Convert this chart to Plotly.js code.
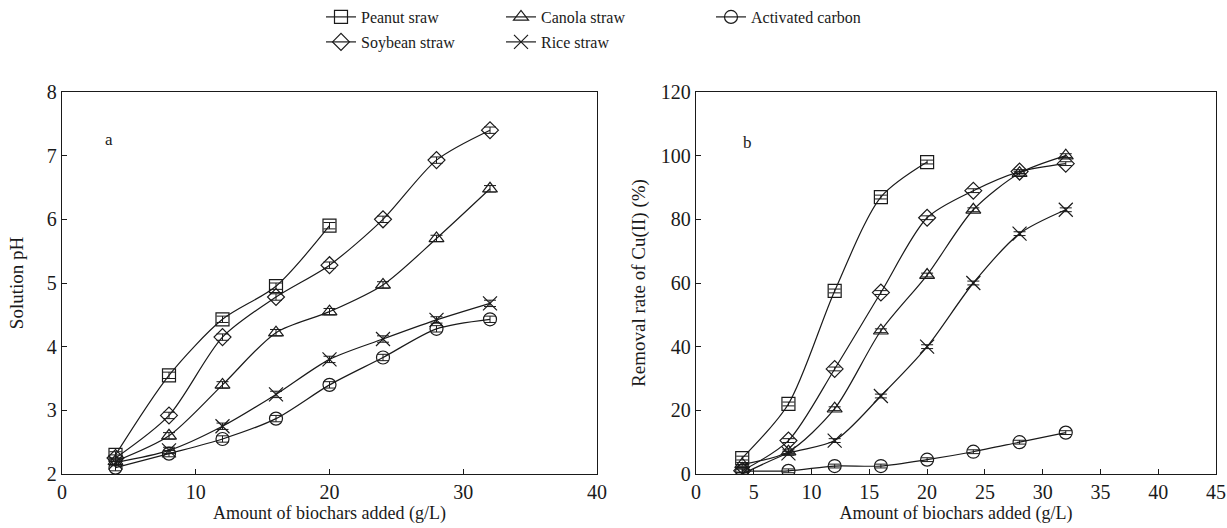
<!DOCTYPE html>
<html><head><meta charset="utf-8">
<script src="https://cdn.plot.ly/plotly-3.0.1.min.js"></script>
<style>html,body{margin:0;padding:0;background:#fff}#chart{width:1227px;height:528px}</style>
</head><body><div id="chart"></div>
<script>
// Amount of biochars added (g/L)
const doseFull = [4, 8, 12, 16, 20, 24, 28, 32];
const dosePeanut = [4, 8, 12, 16, 20];

// Panel a: solution pH
const phPeanut = [2.30, 3.55, 4.43, 4.95, 5.90];
const phSoybean = [2.25, 2.92, 4.15, 4.78, 5.28, 6.00, 6.93, 7.40];
const phCanola = [2.20, 2.60, 3.40, 4.22, 4.55, 4.97, 5.70, 6.48];
const phRice = [2.18, 2.37, 2.75, 3.25, 3.80, 4.12, 4.42, 4.68];
const phCarbon = [2.10, 2.32, 2.55, 2.87, 3.40, 3.83, 4.28, 4.43];

// Panel b: removal rate of Cu(II) (%)
const remPeanut = [5.0, 22.0, 57.5, 87.0, 98.0];
const remSoybean = [1.0, 10.5, 33.0, 57.0, 80.5, 89.0, 95.0, 97.5];
const remCanola = [3.0, 7.0, 20.5, 45.0, 62.5, 83.0, 94.5, 100.0];
const remRice = [0.0, 6.5, 10.5, 24.5, 40.0, 60.0, 75.5, 83.0];
const remCarbon = [1.0, 1.0, 2.5, 2.5, 4.5, 7.0, 10.0, 13.0];

const seriesNames = ["Peanut sraw", "Canola straw", "Activated carbon", "Soybean straw", "Rice straw"];
const legendId = {"Peanut sraw": "legend", "Canola straw": "legend2", "Activated carbon": "legend3", "Soybean straw": "legend4", "Rice straw": "legend5"};

const FONT = "Liberation Serif, serif";
const INK = "#1a1a1a";
const symbols = {"Peanut sraw": "square-open", "Canola straw": "triangle-up-open", "Activated carbon": "circle-open", "Soybean straw": "diamond-open", "Rice straw": "x-thin-open"};

function mk(name, x, y, xa, ya, show, err) {
  return {
    type: "scatter", mode: "lines+markers", name: name, x: x, y: y,
    xaxis: xa, yaxis: ya, showlegend: show, legendgroup: name, legend: legendId[name],
    line: {color: INK, width: 1.2, shape: "spline", smoothing: 0.8},
    marker: {symbol: symbols[name], size: name === "Rice straw" ? 14 : 13, color: INK, line: {color: INK, width: 1.2}},
    error_y: {type: "constant", value: err, color: INK, thickness: 1, width: 6}
  };
}

const aData = {"Peanut sraw": [dosePeanut, phPeanut], "Canola straw": [doseFull, phCanola], "Activated carbon": [doseFull, phCarbon], "Soybean straw": [doseFull, phSoybean], "Rice straw": [doseFull, phRice]};
const bData = {"Peanut sraw": [dosePeanut, remPeanut], "Canola straw": [doseFull, remCanola], "Activated carbon": [doseFull, remCarbon], "Soybean straw": [doseFull, remSoybean], "Rice straw": [doseFull, remRice]};

const traces = [];
seriesNames.forEach(n => traces.push(mk(n, aData[n][0], aData[n][1], "x", "y", true, 0.05)));
seriesNames.forEach(n => traces.push(mk(n, bData[n][0], bData[n][1], "x2", "y2", false, 0.6)));

const axBase = {
  showline: true, mirror: true, linecolor: INK, linewidth: 1.2,
  ticks: "inside", ticklen: 5, tickcolor: INK, tickwidth: 1,
  showgrid: false, zeroline: false,
  tickfont: {family: FONT, size: 20, color: INK}
};
const titleFont = {family: FONT, size: 18, color: INK};
const yTitleFont = {family: FONT, size: 19, color: INK};
function leg(xpx, ypx) {
  return {orientation: "h", xref: "container", yref: "container", xanchor: "left", yanchor: "top",
    x: xpx / 1227, y: 1 - ypx / 528,
    font: {family: FONT, size: 16, color: INK}, bgcolor: "rgba(0,0,0,0)", itemwidth: 30, tracegroupgap: 0};
}

const layout = {
  width: 1227, height: 528,
  paper_bgcolor: "#fff", plot_bgcolor: "#fff",
  margin: {l: 0, r: 0, t: 92, b: 54},
  font: {family: FONT, color: INK, size: 16},
  xaxis: Object.assign({}, axBase, {domain: [62/1227, 597/1227], range: [0, 40], dtick: 10, anchor: "y",
    title: {text: "Amount of biochars added (g/L)", font: titleFont, standoff: 2}}),
  yaxis: Object.assign({}, axBase, {domain: [0, 1], range: [2, 8], dtick: 1, anchor: "x",
    title: {text: "Solution pH", font: yTitleFont, standoff: 18}}),
  xaxis2: Object.assign({}, axBase, {domain: [696/1227, 1216/1227], range: [0, 45], dtick: 5, anchor: "y2",
    title: {text: "Amount of biochars added (g/L)", font: titleFont, standoff: 2}}),
  yaxis2: Object.assign({}, axBase, {domain: [0, 1], range: [0, 120], dtick: 20, anchor: "x2",
    title: {text: "Removal rate of Cu(II) (%)", font: yTitleFont, standoff: 10}}),
  showlegend: true,
  legend: leg(321, 0),
  legend2: leg(501, 0),
  legend3: leg(711, 0),
  legend4: leg(321, 25),
  legend5: leg(501, 25),
  annotations: [
    {text: "a", xref: "x domain", yref: "y domain", x: 0.077, y: 0.906, showarrow: false, font: {family: FONT, size: 17, color: INK}},
    {text: "b", xref: "x2 domain", yref: "y2 domain", x: 0.087, y: 0.898, showarrow: false, font: {family: FONT, size: 17, color: INK}}
  ]
};

Plotly.newPlot("chart", traces, layout, {displayModeBar: false, staticPlot: true});
</script></body></html>
